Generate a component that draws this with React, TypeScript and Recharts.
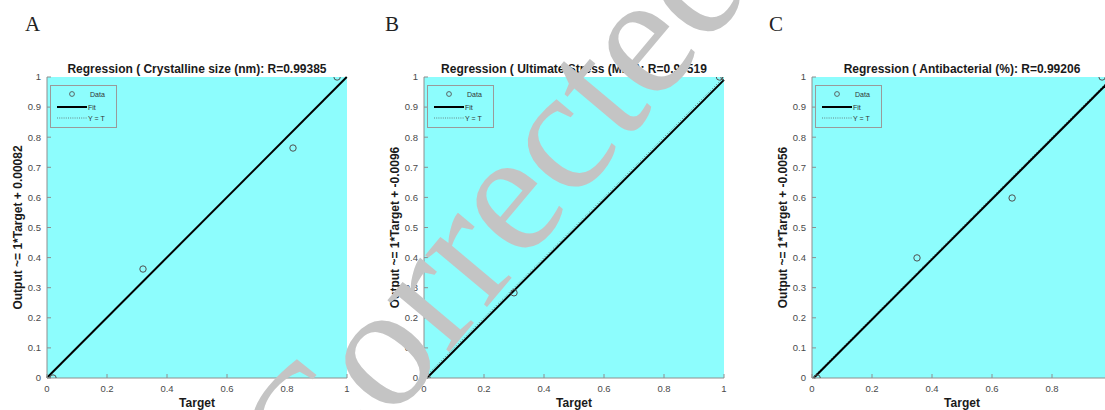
import React from 'react';
import { ScatterChart, Scatter, XAxis, YAxis, CartesianGrid, ReferenceLine, Legend } from 'recharts';

// ---- data ----
const panelLetters = ['A', 'B', 'C'];
const panelTitles = [
  'Regression ( Crystalline size (nm): R=0.99385',
  'Regression ( Ultimate Stress (MPa): R=0.99519',
  'Regression ( Antibacterial (%): R=0.99206',
];
const yAxisLabels = [
  'Output ~= 1*Target + 0.00082',
  'Output ~= 1*Target + -0.0096',
  'Output ~= 1*Target + -0.0056',
];
const fitSlopes = [1, 1, 1];
const fitIntercepts = [0.00082, -0.0096, -0.0056];

const targetsA = [0.02, 0.32, 0.82, 0.967];
const outputsA = [0.0, 0.362, 0.764, 1.0];
const targetsB = [0.01, 0.3, 0.985, 1.0];
const outputsB = [0.0, 0.283, 1.0, 1.0];
const targetsC = [0.017, 0.35, 0.667, 0.967];
const outputsC = [0.0, 0.399, 0.598, 1.0];

const xTicks = [0, 0.2, 0.4, 0.6, 0.8, 1];
const yTicks = [0, 0.1, 0.2, 0.3, 0.4, 0.5, 0.6, 0.7, 0.8, 0.9, 1];
const xAxisLabel = 'Target';
const legendLabels = ['Data', 'Fit', 'Y = T'];
const watermarkText = 'Corrected';

// ---- styles ----
const CYAN = '#8dfdfd';
const AXIS = '#8e8e8e';
const TICK_TXT = '#4a4a4a';
const SANS = '"Liberation Sans", Arial, Helvetica, sans-serif';
const SERIF = '"Liberation Serif", "Times New Roman", serif';

const panelLefts = [0, 377, 765];
const PLOT_LEFT = 47;
const PLOT_W = 300;
const letterPos = [
  { left: 25, top: 14 },
  { left: 385, top: 14 },
  { left: 769, top: 14 },
];

const LegendBox = () => (
  <svg width={67} height={43} style={{ display: 'block' }}>
    <rect x={0.5} y={0.5} width={66} height={42} fill={CYAN} stroke="#9a9a9a" strokeWidth={1} />
    <circle cx={22} cy={9} r={2.4} fill="none" stroke="#555" strokeWidth={0.9} />
    <text x={40} y={11.5} fontSize={7} fontFamily={SANS} fill="#333">{legendLabels[0]}</text>
    <line x1={7} x2={37} y1={22} y2={22} stroke="#000" strokeWidth={2} />
    <text x={38} y={24.5} fontSize={7} fontFamily={SANS} fill="#333">{legendLabels[1]}</text>
    <line x1={7} x2={37} y1={33} y2={33} stroke="#555" strokeWidth={0.7} strokeDasharray="1 1.2" />
    <text x={38} y={35.5} fontSize={7} fontFamily={SANS} fill="#333">{legendLabels[2]}</text>
  </svg>
);

const circleShape = (p: any) => (
  <circle cx={p.cx} cy={p.cy} r={3.2} fill="none" stroke="#4f4f4f" strokeWidth={1} />
);

const fmt = (v: number) => String(v);

function Panel({ idx, targets, outputs }: { idx: number; targets: number[]; outputs: number[] }) {
  const pts = targets.map((t, i) => ({ x: t, y: outputs[i] }));
  const m = fitSlopes[idx];
  const b = fitIntercepts[idx];
  const fx0 = Math.max(0, -b / m);
  const fx1 = Math.min(1, (1 - b) / m);
  const yLab = yAxisLabels[idx];
  return (
    <div style={{ position: 'absolute', left: panelLefts[idx], top: 0, width: 370, height: 410 }}>
      <div
        style={{
          position: 'absolute',
          left: PLOT_LEFT + PLOT_W / 2 - 200,
          width: 400,
          top: 63,
          textAlign: 'center',
          whiteSpace: 'nowrap',
          fontFamily: SANS,
          fontSize: 12,
          fontWeight: 700,
          lineHeight: 1,
          color: '#1a1a1a',
          zIndex: 2,
        }}
      >
        {panelTitles[idx]}
      </div>
      <ScatterChart width={370} height={410} margin={{ top: 77, right: 23, bottom: 0, left: 0 }}>
        <CartesianGrid fill={CYAN} fillOpacity={1} horizontal={false} vertical={false} stroke="none" />
        <XAxis
          xAxisId={0}
          dataKey="x"
          type="number"
          domain={[0, 1]}
          ticks={xTicks}
          tickFormatter={fmt}
          height={32}
          stroke={AXIS}
          tickSize={-4}
          tickMargin={11}
          tick={{ fill: TICK_TXT, fontSize: 9.5, fontFamily: SANS }}
          allowDataOverflow
          label={{ value: xAxisLabel, position: 'insideBottom', offset: 3, fill: '#1a1a1a', fontSize: 12, fontWeight: 700, fontFamily: SANS }}
        />
        <XAxis
          xAxisId="top"
          orientation="top"
          type="number"
          domain={[0, 1]}
          ticks={xTicks}
          tickFormatter={() => ''}
          height={0}
          stroke={AXIS}
          tickSize={-4}
          allowDataOverflow
        />
        <YAxis
          yAxisId={0}
          dataKey="y"
          type="number"
          domain={[0, 1]}
          ticks={yTicks}
          tickFormatter={fmt}
          width={47}
          stroke={AXIS}
          tickSize={-4}
          tickMargin={10}
          tick={{ fill: TICK_TXT, fontSize: 9.5, fontFamily: SANS }}
          allowDataOverflow
          label={(props: any) => {
            const vb = props.viewBox || {};
            const cx = (vb.x ?? 0) + 18;
            const cy = (vb.y ?? 0) + (vb.height ?? 0) / 2;
            return (
              <text
                x={cx}
                y={cy}
                transform={`rotate(-90, ${cx}, ${cy})`}
                textAnchor="middle"
                dy="0.36em"
                fill="#1a1a1a"
                fontSize={12}
                fontWeight={700}
                fontFamily={SANS}
              >
                {yLab}
              </text>
            );
          }}
        />
        <YAxis
          yAxisId="right"
          orientation="right"
          type="number"
          domain={[0, 1]}
          ticks={yTicks}
          tickFormatter={() => ''}
          width={0}
          stroke={AXIS}
          tickSize={-4}
          allowDataOverflow
        />
        <ReferenceLine
          segment={[{ x: 0, y: 0 }, { x: 1, y: 1 }]}
          stroke="#555"
          strokeWidth={0.8}
          strokeDasharray="1 2"
          ifOverflow="visible"
        />
        <ReferenceLine
          segment={[{ x: fx0, y: m * fx0 + b }, { x: fx1, y: m * fx1 + b }]}
          stroke="#000"
          strokeWidth={2}
          ifOverflow="visible"
        />
        <Scatter data={pts} shape={circleShape} isAnimationActive={false} />
        <Legend
          content={LegendBox}
          layout="vertical"
          align="center"
          verticalAlign="middle"
          wrapperStyle={{ left: 50, top: 85, width: 67, height: 43, right: 'auto', bottom: 'auto' }}
        />
      </ScatterChart>
    </div>
  );
}

// watermark geometry: baseline start point and angle
const WM_X = 315;
const WM_Y = 512;
const WM_ANGLE = -50;
const WM_SIZE = 176;

export default function App() {
  return (
    <div
      style={{
        position: 'absolute',
        left: 0,
        top: 0,
        width: 1105,
        height: 410,
        overflow: 'hidden',
        background: '#ffffff',
      }}
    >
      {panelLetters.map((L, i) => (
        <div
          key={L}
          style={{
            position: 'absolute',
            left: letterPos[i].left,
            top: letterPos[i].top,
            fontFamily: SERIF,
            fontSize: 21,
            lineHeight: 1,
            color: '#222',
          }}
        >
          {L}
        </div>
      ))}
      <Panel idx={0} targets={targetsA} outputs={outputsA} />
      <Panel idx={1} targets={targetsB} outputs={outputsB} />
      <Panel idx={2} targets={targetsC} outputs={outputsC} />
      <svg
        width={1105}
        height={410}
        style={{ position: 'absolute', left: 0, top: 0, pointerEvents: 'none', zIndex: 5 }}
      >
        <text
          x={WM_X}
          y={WM_Y}
          transform={`rotate(${WM_ANGLE}, ${WM_X}, ${WM_Y})`}
          fontFamily={SERIF}
          fontSize={WM_SIZE}
          fill="#c4c4c4"
        >
          {watermarkText}
        </text>
      </svg>
    </div>
  );
}
